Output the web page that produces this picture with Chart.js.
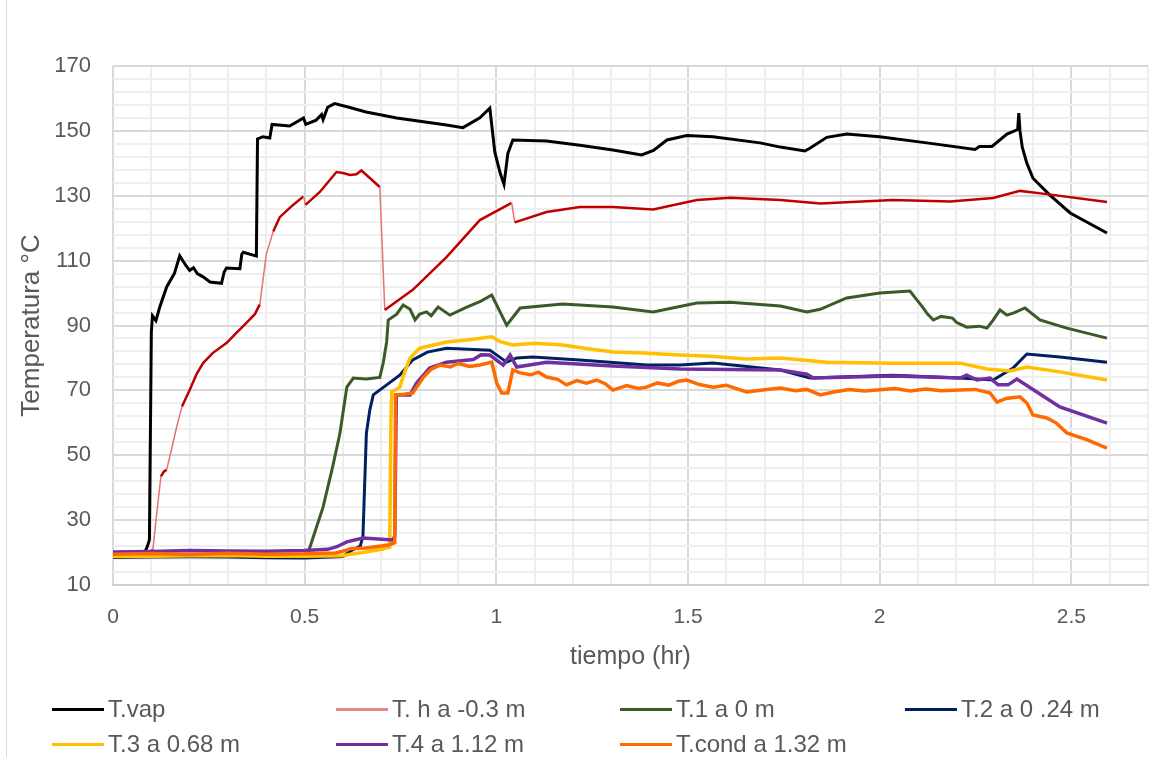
<!DOCTYPE html>
<html>
<head>
<meta charset="utf-8">
<script src="https://cdn.jsdelivr.net/npm/chart.js@4.4.1/dist/chart.umd.min.js"></script>
<style>
  body { margin: 0; background: #fff; }
  #wrap { position: relative; width: 1172px; height: 757px; font-family: "Liberation Sans", Arial, sans-serif; }
  #wrap:before { content: ""; position: absolute; left: 6px; top: 0; bottom: 0; border-left: 1px solid #d9d9d9; }
  canvas { position: absolute; left: 0; top: 0; }
  .leg { position: absolute; height: 26px; display: flex; align-items: center; font-size: 24px; color: #595959; white-space: nowrap; }
  .leg i { display: inline-block; width: 52px; height: 3px; margin-right: 4px; }
</style>
</head>
<body>
<div id="wrap">
  <canvas id="temperaturas" width="1172" height="757"></canvas>
</div>
<script>
// tiempo (hr) / temperatura (°C) de cada sensor
var vapX = [0, 0.05, 0.08, 0.09, 0.095, 0.1, 0.103, 0.112, 0.122, 0.14, 0.16, 0.174, 0.19, 0.2, 0.21, 0.22, 0.235, 0.253, 0.283, 0.29, 0.296, 0.331, 0.336, 0.34, 0.374, 0.377, 0.391, 0.409, 0.415, 0.461, 0.497, 0.503, 0.53, 0.544, 0.548, 0.56, 0.578, 0.618, 0.66, 0.697, 0.74, 0.782, 0.87, 0.913, 0.957, 0.983, 0.996, 1.01, 1.02, 1.03, 1.043, 1.131, 1.218, 1.304, 1.379, 1.41, 1.445, 1.497, 1.565, 1.688, 1.741, 1.805, 1.82, 1.862, 1.914, 2.0, 2.123, 2.249, 2.26, 2.293, 2.332, 2.36, 2.363, 2.366, 2.372, 2.384, 2.4, 2.444, 2.497, 2.593];
var vapY = [18.8, 19, 19.3, 22, 24, 88, 93, 91.5, 95.7, 101.9, 106, 111.5, 108.5, 107, 107.8, 106, 105, 103.4, 103, 106.5, 107.7, 107.5, 112, 112.6, 111.4, 147.5, 148.2, 147.8, 152, 151.5, 154, 152, 153.3, 155, 153.5, 157.3, 158.4, 157.2, 155.8, 155, 154, 153.3, 151.8, 151, 154, 157, 143.5, 137, 133.5, 143, 147.2, 146.9, 145.6, 144.1, 142.6, 144, 147.2, 148.6, 148.2, 146.3, 145, 143.8, 144.8, 148, 149, 148.2, 146.3, 144.3, 145.2, 145.2, 149, 150.4, 155.5, 150, 145, 140, 135.4, 130.2, 124.7, 118.5];

var hX = [0, 0.1, 0.104, 0.115, 0.125, 0.133, 0.14, 0.155, 0.166, 0.18, 0.2, 0.218, 0.235, 0.26, 0.296, 0.32, 0.348, 0.37, 0.383, 0.4, 0.418, 0.435, 0.469, 0.497, 0.502, 0.539, 0.583, 0.6, 0.618, 0.635, 0.648, 0.696, 0.709, 0.782, 0.87, 0.957, 1.04, 1.048, 1.131, 1.218, 1.304, 1.409, 1.523, 1.61, 1.741, 1.845, 2.035, 2.184, 2.296, 2.366, 2.436, 2.593];
var hY = [19.8, 20, 21, 33, 43.5, 45, 45.5, 53, 58.7, 65, 70.1, 75, 78.4, 81.5, 84.6, 87.5, 90.8, 93.5, 96.5, 112, 119, 123.4, 127.1, 129.8, 127.2, 131.1, 137.3, 137, 136.4, 136.6, 137.8, 132.7, 94.8, 101, 111.1, 122.5, 127.8, 121.8, 125, 126.5, 126.5, 125.8, 128.7, 129.4, 128.7, 127.6, 128.7, 128.2, 129.3, 131.5, 130.5, 128.1];

var t1X = [0, 0.25, 0.5, 0.513, 0.548, 0.573, 0.592, 0.61, 0.627, 0.66, 0.696, 0.705, 0.714, 0.718, 0.74, 0.757, 0.775, 0.788, 0.8, 0.818, 0.83, 0.848, 0.879, 0.92, 0.96, 0.988, 1.027, 1.062, 1.173, 1.304, 1.409, 1.523, 1.61, 1.741, 1.81, 1.845, 1.914, 2.0, 2.079, 2.097, 2.11, 2.125, 2.14, 2.16, 2.19, 2.2, 2.227, 2.26, 2.28, 2.295, 2.314, 2.332, 2.35, 2.379, 2.418, 2.488, 2.593];
var t1Y = [19, 19.1, 19, 21.4, 34, 46.4, 56.8, 71, 73.8, 73.5, 74, 78.5, 85, 91.7, 93.5, 96.3, 95, 91.7, 93.5, 94.2, 93, 95.7, 93.2, 95.5, 97.5, 99.4, 90.1, 95.4, 96.6, 95.7, 94.2, 96.9, 97.2, 96, 94.2, 95, 98.5, 100, 100.6, 97.9, 96, 93.5, 91.7, 92.8, 92.3, 91, 89.5, 89.8, 89.2, 91.5, 94.8, 93.2, 93.9, 95.4, 91.7, 89.2, 86.1];

var t2X = [0, 0.1, 0.2, 0.3, 0.4, 0.5, 0.6, 0.62, 0.645, 0.652, 0.661, 0.67, 0.679, 0.714, 0.748, 0.782, 0.82, 0.87, 0.983, 1.027, 1.053, 1.095, 1.218, 1.392, 1.479, 1.565, 1.741, 1.818, 2.035, 2.21, 2.296, 2.348, 2.384, 2.47, 2.593];
var t2Y = [18.5, 18.6, 18.7, 18.6, 18.4, 18.3, 18.8, 20.5, 22, 25, 56.8, 64, 68.6, 71.7, 74.7, 79.4, 81.8, 83, 82.4, 78.7, 80, 80.3, 79.4, 77.8, 77.8, 78.4, 76.3, 73.8, 74.7, 73.8, 73.2, 76.9, 81.2, 80.3, 78.7];

var t3X = [0, 0.1, 0.2, 0.3, 0.4, 0.5, 0.6, 0.62, 0.66, 0.7, 0.722, 0.725, 0.727, 0.748, 0.762, 0.775, 0.8, 0.87, 0.93, 0.988, 1.01, 1.043, 1.1, 1.173, 1.23, 1.304, 1.38, 1.479, 1.56, 1.653, 1.741, 1.862, 2.035, 2.21, 2.28, 2.34, 2.384, 2.47, 2.593];
var t3Y = [18.8, 18.9, 19, 19.1, 18.9, 18.9, 19, 19.5, 20.2, 21, 21.7, 60, 69.5, 71, 76, 80, 83, 84.9, 85.6, 86.5, 85, 84, 84.5, 84, 83, 81.8, 81.5, 80.9, 80.5, 79.7, 80, 78.7, 78.4, 78.4, 76.6, 76, 77.2, 75.7, 73.2];

var t4X = [0, 0.1, 0.2, 0.3, 0.4, 0.5, 0.56, 0.584, 0.61, 0.652, 0.73, 0.735, 0.739, 0.775, 0.792, 0.826, 0.87, 0.94, 0.96, 0.983, 1.018, 1.036, 1.053, 1.131, 1.304, 1.479, 1.741, 1.81, 1.827, 2.035, 2.21, 2.227, 2.254, 2.288, 2.309, 2.335, 2.358, 2.41, 2.47, 2.593];
var t4Y = [20.2, 20.3, 20.6, 20.5, 20.4, 20.6, 21, 21.8, 23.3, 24.5, 23.9, 25, 68.6, 68.6, 72.3, 76.9, 78.7, 79.5, 81, 80.9, 77.8, 80.9, 77.2, 78.7, 77.5, 76.6, 76.3, 75, 73.8, 74.4, 73.8, 74.7, 73.2, 73.8, 71.7, 71.7, 73.5, 69.5, 64.9, 59.9];

var condX = [0, 0.1, 0.2, 0.3, 0.4, 0.5, 0.58, 0.6, 0.62, 0.66, 0.7, 0.72, 0.735, 0.737, 0.76, 0.782, 0.81, 0.83, 0.853, 0.88, 0.9, 0.93, 0.957, 0.988, 1.001, 1.014, 1.03, 1.043, 1.062, 1.09, 1.11, 1.131, 1.16, 1.183, 1.21, 1.235, 1.262, 1.285, 1.304, 1.34, 1.37, 1.392, 1.42, 1.45, 1.475, 1.497, 1.53, 1.565, 1.6, 1.63, 1.653, 1.7, 1.741, 1.78, 1.81, 1.845, 1.88, 1.92, 1.96, 1.993, 2.04, 2.08, 2.12, 2.16, 2.21, 2.25, 2.288, 2.306, 2.33, 2.366, 2.384, 2.4, 2.436, 2.46, 2.488, 2.54, 2.593];
var condY = [19.5, 19.7, 19.4, 19.8, 19.5, 19.6, 19.9, 20.4, 21.2, 21.4, 22, 22.4, 23, 68.6, 68.8, 69.2, 74.1, 76.5, 77.8, 77.2, 78.3, 77.4, 77.8, 78.7, 72.3, 69.2, 69.2, 76.3, 75.4, 74.8, 75.6, 74.1, 73.4, 71.7, 73, 72.2, 73.2, 72, 70.1, 71.5, 70.6, 71, 72.3, 71.6, 72.8, 73.2, 71.8, 71, 71.6, 70.4, 69.5, 70.2, 70.7, 69.9, 70.3, 68.6, 69.5, 70.3, 69.8, 70.1, 70.6, 69.8, 70.4, 69.9, 70.1, 70.3, 69.2, 66.4, 67.5, 68, 66.1, 62.4, 61.5, 60, 56.9, 54.8, 52.2];

var nombres = ["T.vap", "T. h a -0.3 m", "T.1 a 0 m", "T.2 a 0 .24 m", "T.3 a 0.68 m", "T.4 a 1.12 m", "T.cond a 1.32 m"];
var colores = ["#000000", "#c00000", "#3a5a27", "#002060", "#ffc000", "#7030a0", "#ff6a00"];
var coloresLeyenda = ["#000000", "#e88585", "#3a5a27", "#002060", "#ffc000", "#7030a0", "#ff6a00"];
var grosores = [3, 2.5, 3, 3, 3.5, 3.5, 3.5];
var series = [[vapX, vapY], [hX, hY], [t1X, t1Y], [t2X, t2Y], [t3X, t3Y], [t4X, t4Y], [condX, condY]];

// etiquetas de los ejes (las lineas intermedias van sin texto)
var etiquetasX = [0, 0.5, 1, 1.5, 2, 2.5];
var etiquetasY = [10, 30, 50, 70, 90, 110, 130, 150, 170];

var fuente = "'Liberation Sans', Arial, sans-serif";
var gris = "#595959";

function esEtiqueta(lista, v) {
  return lista.some(function (e) { return Math.abs(e - v) < 1e-6; });
}

function empinado(ctx) {
  var dx = Math.abs(ctx.p1.parsed.x - ctx.p0.parsed.x);
  var dy = Math.abs(ctx.p1.parsed.y - ctx.p0.parsed.y);
  return dy > dx * 350;
}

var datasets = series.map(function (s, i) {
  var ds = {
    label: nombres[i],
    data: s[0].map(function (x, k) { return { x: x, y: s[1][k] }; }),
    borderColor: colores[i],
    backgroundColor: colores[i],
    borderWidth: grosores[i],
    pointRadius: 0,
    tension: 0,
    order: series.length - i
  };
  if (i == 1) {
    // la linea roja se ve clara en los tramos casi verticales
    ds.segment = {
      borderColor: function (ctx) { return empinado(ctx) ? "#e57373" : "#c00000"; },
      borderWidth: function (ctx) { return empinado(ctx) ? 1.5 : 2.5; }
    };
  }
  return ds;
});

var ctx = document.getElementById("temperaturas").getContext("2d");
var grafico = new Chart(ctx, {
  type: "line",
  data: { datasets: datasets },
  options: {
    responsive: false,
    animation: false,
    layout: { padding: { left: 0, top: 66, right: 24, bottom: 77 } },
    plugins: { legend: { display: false }, tooltip: { enabled: false } },
    scales: {
      x: {
        type: "linear",
        min: 0,
        max: 2.7,
        afterBuildTicks: function (axis) {
          var t = [];
          for (var i = 0; i <= 27; i++) t.push({ value: i / 10 });
          axis.ticks = t;
        },
        afterFit: function (axis) { axis.height = 95; },
        ticks: {
          autoSkip: false,
          maxRotation: 0,
          padding: 20,
          color: gris,
          font: { family: fuente, size: 21 },
          callback: function (v) { return esEtiqueta(etiquetasX, v) ? String(+v.toFixed(1)) : ""; }
        },
        grid: {
          drawTicks: false,
          lineWidth: 2,
          color: function (c) { return esEtiqueta(etiquetasX, c.tick.value) ? "#d9d9d9" : "#efefef"; }
        },
        border: { color: "#d0d0d0", width: 2 },
        title: {
          display: true,
          text: "tiempo (hr)",
          color: gris,
          font: { family: fuente, size: 25 },
          padding: { top: 0, bottom: 8 }
        }
      },
      y: {
        min: 10,
        max: 170,
        afterBuildTicks: function (axis) {
          var t = [];
          for (var v = 10; v <= 170; v += 4) t.push({ value: v });
          axis.ticks = t;
        },
        afterFit: function (axis) { axis.width = 113; },
        ticks: {
          autoSkip: false,
          padding: 22,
          color: gris,
          font: { family: fuente, size: 22 },
          callback: function (v) { return esEtiqueta(etiquetasY, v) ? String(v) : ""; }
        },
        grid: {
          drawTicks: false,
          lineWidth: 2,
          color: function (c) { return esEtiqueta(etiquetasY, c.tick.value) ? "#d9d9d9" : "#efefef"; }
        },
        border: { display: false },
        title: {
          display: true,
          text: "Temperatura °C",
          color: gris,
          font: { family: fuente, size: 26 },
          padding: { top: 16, bottom: 0 }
        }
      }
    }
  }
});

// leyenda en cuadricula de 4 columnas bajo el grafico
var wrap = document.getElementById("wrap");
var colX = [52, 336, 620, 905];
var filaY = [709, 744];
nombres.forEach(function (n, i) {
  var d = document.createElement("div");
  d.className = "leg";
  d.style.left = colX[i % 4] + "px";
  d.style.top = (filaY[Math.floor(i / 4)] - 13) + "px";
  var l = document.createElement("i");
  l.style.background = coloresLeyenda[i];
  d.appendChild(l);
  d.appendChild(document.createTextNode(n));
  wrap.appendChild(d);
});
</script>
</body>
</html>
